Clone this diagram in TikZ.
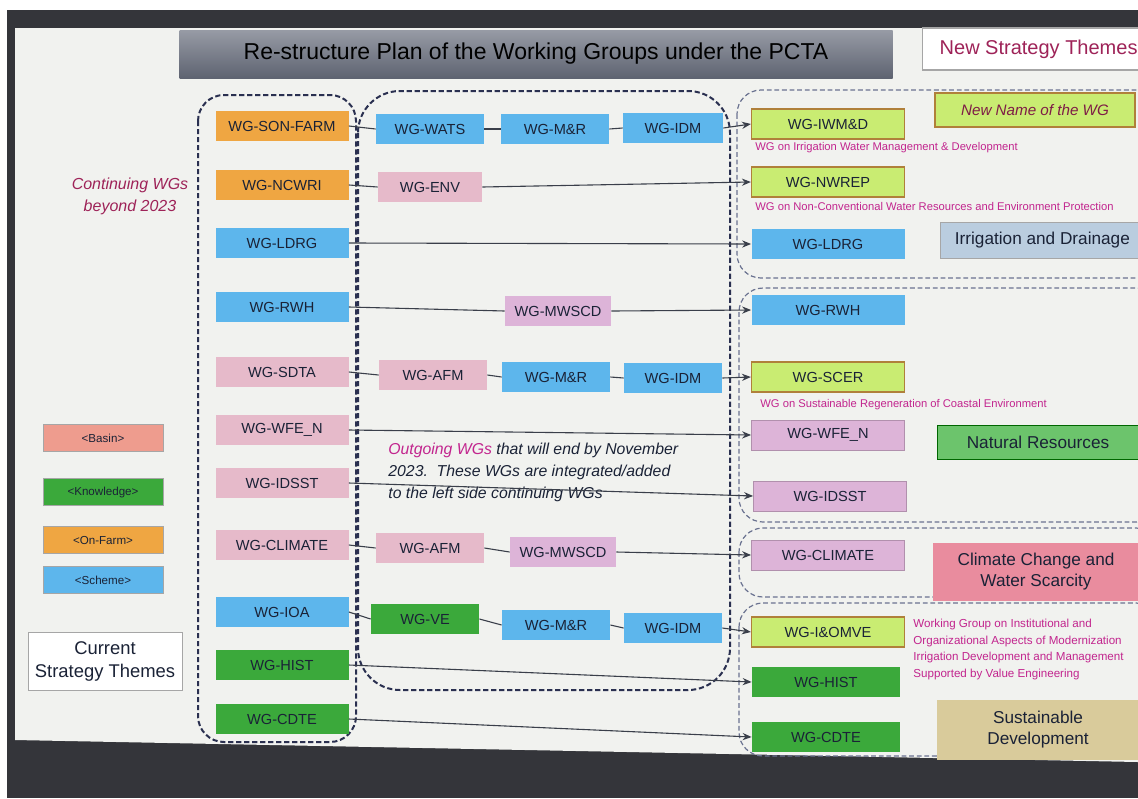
\documentclass[tikz,border=0pt]{standalone}
\usepackage{fontspec}
\setmainfont{Liberation Sans}
\usetikzlibrary{arrows.meta}
\definecolor{bezel}{HTML}{34353A}
\definecolor{screen}{HTML}{F1F2EF}
\definecolor{navy}{HTML}{1A2236}
\definecolor{crim}{HTML}{9E2358}
\definecolor{magC}{HTML}{C2258E}
\definecolor{orangeC}{HTML}{EFA642}
\definecolor{blueC}{HTML}{5DB6EC}
\definecolor{pinkC}{HTML}{E6BACA}
\definecolor{lilacC}{HTML}{DDB4D8}
\definecolor{greenC}{HTML}{3BA93B}
\definecolor{lgreenC}{HTML}{C9EC72}
\definecolor{lgborder}{HTML}{B0803A}
\definecolor{natC}{HTML}{6CC46C}
\definecolor{climC}{HTML}{E98C9E}
\definecolor{sustC}{HTML}{D9CB9B}
\definecolor{irrC}{HTML}{BACDDF}
\definecolor{basinC}{HTML}{EE9C8E}
\definecolor{dashC}{HTML}{2A3050}
\definecolor{gdashC}{HTML}{6A7290}
\definecolor{lineC}{HTML}{3A3F4A}
\definecolor{titleTop}{HTML}{979BA5}
\definecolor{titleBot}{HTML}{5E6371}
\tikzset{
  wg/.style={minimum height=15pt, inner sep=0pt, text=navy, font=\fontsize{7.3}{8}\selectfont},
  lcol/.style={wg, minimum width=66.5pt},
  mid/.style={wg, minimum width=54pt},
  rcol/.style={wg, minimum width=76.5pt},
  lg/.style={fill=lgreenC, draw=lgborder, line width=0.6pt},
  legend/.style={minimum width=60pt, minimum height=13.5pt, inner sep=0pt, text=navy, font=\fontsize{5.8}{6}\selectfont, draw=gray!70, line width=0.4pt},
  theme/.style={inner sep=0pt, text=navy, font=\fontsize{8.6}{10.5}\selectfont, align=center},
  captxt/.style={anchor=west, inner sep=0pt, text=magC, font=\fontsize{5.6}{6}\selectfont},
  conn/.style={draw=lineC, line width=0.55pt},
  arr/.style={conn, -{Stealth[length=4.5pt,width=3.6pt]}},
  grp/.style={draw=dashC, dash pattern=on 2.6pt off 1.4pt, line width=1pt},
  rgrp/.style={draw=gdashC, dash pattern=on 2.4pt off 1.4pt, line width=0.6pt, rounded corners=12pt},
}
\begin{document}
\begin{tikzpicture}[x=0.5pt,y=-0.5pt]
\useasboundingbox (0,0) rectangle (1138,798);
\clip (0,0) rectangle (1138,798);
% photo frame
\fill[white] (0,0) rectangle (1138,798);
\fill[bezel] (7,10) rectangle (1138,798);
\fill[screen] (15,28) -- (1138,28) -- (1138,762) -- (15,740) -- cycle;

% title
\node[minimum width=356.5pt, minimum height=24pt, inner sep=0pt, top color=titleTop, bottom color=titleBot, text=black, font=\fontsize{11.5}{12}\selectfont] (title) at (536,54) {Re-structure Plan of the Working Groups under the PCTA};
\node[anchor=west, minimum width=110pt, minimum height=21pt, inner sep=0pt, fill=white, draw=gray!70, line width=0.6pt, text=crim, font=\fontsize{10}{11}\selectfont] (newthemes) at (922,49) {\hspace*{6pt}New Strategy Themes\hfill};

% group outlines
\draw[grp, rounded corners=13pt] (198,95) rectangle (356,742);
\draw[grp, rounded corners=21pt] (358,91) rectangle (730,690);
\draw[rgrp] (737,90) rectangle (1160,278);
\draw[rgrp] (739,288) rectangle (1160,522);
\draw[rgrp] (739,528) rectangle (1160,597);
\draw[rgrp] (739,603) rectangle (1160,756);

% left column
\node[lcol, fill=orangeC] (son) at (282,126) {WG-SON-FARM};
\node[lcol, fill=orangeC] (ncwri) at (282,185) {WG-NCWRI};
\node[lcol, fill=blueC] (ldrg) at (282,243) {WG-LDRG};
\node[lcol, fill=blueC] (rwh) at (282,307) {WG-RWH};
\node[lcol, fill=pinkC] (sdta) at (282,372) {WG-SDTA};
\node[lcol, fill=pinkC] (wfe) at (282,430) {WG-WFE\_N};
\node[lcol, fill=pinkC] (idsst) at (282,483) {WG-IDSST};
\node[lcol, fill=pinkC] (climate) at (282,545) {WG-CLIMATE};
\node[lcol, fill=blueC] (ioa) at (282,612) {WG-IOA};
\node[lcol, fill=greenC] (hist) at (282,665) {WG-HIST};
\node[lcol, fill=greenC] (cdte) at (282,719) {WG-CDTE};

% middle column
\node[mid, fill=blueC] (wats) at (430,129) {WG-WATS};
\node[mid, fill=blueC] (mr1) at (555,129) {WG-M\&R};
\node[mid, fill=blueC, minimum width=50pt] (idm1) at (673,128) {WG-IDM};
\node[mid, fill=pinkC, minimum width=52pt] (env) at (430,187) {WG-ENV};
\node[mid, fill=lilacC, minimum width=53pt] (mwscd1) at (558,311) {WG-MWSCD};
\node[mid, fill=pinkC] (afm1) at (433,375) {WG-AFM};
\node[mid, fill=blueC] (mr2) at (556,377) {WG-M\&R};
\node[mid, fill=blueC, minimum width=49pt] (idm2) at (673,378) {WG-IDM};
\node[mid, fill=pinkC] (afm2) at (430,548) {WG-AFM};
\node[mid, fill=lilacC, minimum width=53pt] (mwscd2) at (563,552) {WG-MWSCD};
\node[mid, fill=greenC] (ve) at (425,619) {WG-VE};
\node[mid, fill=blueC] (mr3) at (556,625) {WG-M\&R};
\node[mid, fill=blueC, minimum width=49pt] (idm3) at (673,628) {WG-IDM};

% right column
\node[rcol, lg] (iwmd) at (828,124) {WG-IWM\&D};
\node[rcol, lg] (nwrep) at (828,182) {WG-NWREP};
\node[rcol, fill=blueC] (ldrgR) at (828,244) {WG-LDRG};
\node[rcol, fill=blueC] (rwhR) at (828,310) {WG-RWH};
\node[rcol, lg] (scer) at (828,377) {WG-SCER};
\node[rcol, fill=lilacC, draw=lilacC!80!black, line width=0.4pt] (wfeR) at (828,435) {WG-WFE\_N};
\node[rcol, fill=lilacC, draw=lilacC!80!black, line width=0.4pt] (idsstR) at (830,496) {WG-IDSST};
\node[rcol, fill=lilacC, draw=lilacC!80!black, line width=0.4pt] (climateR) at (828,555) {WG-CLIMATE};
\node[rcol, lg] (iomve) at (828,632) {WG-I\&OMVE};
\node[rcol, fill=greenC, minimum width=74pt] (histR) at (826,682) {WG-HIST};
\node[rcol, fill=greenC, minimum width=74pt] (cdteR) at (826,737) {WG-CDTE};

% captions
\node[captxt] (c1) at (755,148) {WG on Irrigation Water Management \& Development};
\node[captxt] (c2) at (755,206) {WG on Non-Conventional Water Resources and Environment Protection};
\node[captxt] (c3) at (760,405) {WG on Sustainable Regeneration of Coastal Environment};
\node[captxt, anchor=north west, align=left, font=\fontsize{5.8}{8.2}\selectfont] (c4) at (913,619) {Working Group on Institutional and\\Organizational Aspects of Modernization\\Irrigation Development and Management\\Supported by Value Engineering};

% themes
\node[lg, minimum width=100pt, minimum height=17pt, inner sep=0pt, text=crim!80!black, font=\itshape\fontsize{7.6}{8}\selectfont] (newname) at (1035,110) {New Name of the WG};
\node[theme, fill=irrC, draw=gray!70, line width=0.4pt, minimum width=100pt, minimum height=18pt, anchor=west] (irr) at (940,240) {\hspace*{2pt}Irrigation and Drainage\hfill};
\node[theme, fill=natC, draw=green!40!black, line width=0.4pt, minimum width=101pt, minimum height=17pt] (nat) at (1038,442) {Natural Resources};
\node[theme, fill=climC, minimum width=103pt, minimum height=29pt] (clim) at (1036,572) {Climate Change and\\Water Scarcity};
\node[theme, fill=sustC, minimum width=101pt, minimum height=30pt] (sust) at (1038,730) {Sustainable\\Development};

% left legend
\node[align=center, inner sep=0pt, text=crim, font=\itshape\fontsize{8}{11}\selectfont] (cont) at (130,196) {Continuing WGs\\beyond 2023};
\node[legend, fill=basinC] (basin) at (103,438) {<Basin>};
\node[legend, fill=greenC] (know) at (103,492) {<Knowledge>};
\node[legend, fill=orangeC] (farm) at (103,540) {<On-Farm>};
\node[legend, fill=blueC] (scheme) at (103,580) {<Scheme>};
\node[theme, fill=white, draw=gray!70, line width=0.5pt, minimum width=77pt, minimum height=29pt, font=\fontsize{9.2}{11.5}\selectfont] (cur) at (105,661) {Current\\Strategy Themes};

% outgoing text
\node[anchor=north west, align=left, inner sep=0pt, text=navy, font=\itshape\fontsize{7.9}{11}\selectfont] (out) at (388,443) {{\color{magC}Outgoing WGs} that will end by November\\2023.\ \ These WGs are integrated/added\\to the left side continuing WGs};

% connectors
\draw[conn] (son.east) -- (wats.west);
\draw[conn] (wats.east) -- (mr1.west);
\draw[conn] (mr1.east) -- (idm1.west);
\draw[arr] (idm1.east) -- (iwmd.west);
\draw[conn] (ncwri.east) -- (env.west);
\draw[arr] (env.east) -- (nwrep.west);
\draw[arr] (ldrg.east) -- (ldrgR.west);
\draw[conn] (rwh.east) -- (mwscd1.west);
\draw[arr] (mwscd1.east) -- (rwhR.west);
\draw[conn] (sdta.east) -- (afm1.west);
\draw[conn] (afm1.east) -- (mr2.west);
\draw[conn] (mr2.east) -- (idm2.west);
\draw[arr] (idm2.east) -- (scer.west);
\draw[arr] (wfe.east) -- (wfeR.west);
\draw[arr] (idsst.east) -- (idsstR.west);
\draw[conn] (climate.east) -- (afm2.west);
\draw[conn] (afm2.east) -- (mwscd2.west);
\draw[arr] (mwscd2.east) -- (climateR.west);
\draw[conn] (ioa.east) -- (ve.west);
\draw[conn] (ve.east) -- (mr3.west);
\draw[conn] (mr3.east) -- (idm3.west);
\draw[arr] (idm3.east) -- (iomve.west);
\draw[arr] (hist.east) -- (histR.west);
\draw[arr] (cdte.east) -- (cdteR.west);
\end{tikzpicture}
\end{document}
